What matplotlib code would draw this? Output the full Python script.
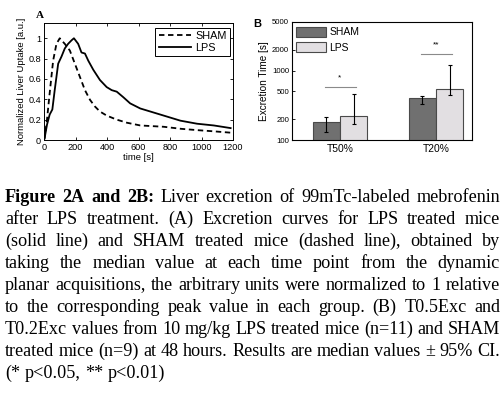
"""
liver excretion curves (A) and excretion times (B) with justified caption
"""

import numpy as np
import matplotlib
matplotlib.use('Agg')
import matplotlib.pyplot as plt

# panel A data: median normalized liver uptake
sham_t = [0, 4, 19, 36, 58, 79, 100, 132, 164, 196, 228, 260, 292, 323, 355, 398,
          462, 526, 611, 760, 870, 972, 1080, 1185]
sham_v = [0, 0.02, 0.2, 0.46, 0.78, 0.945, 1.0, 0.945, 0.88, 0.75, 0.62, 0.49, 0.395,
          0.33, 0.28, 0.24, 0.2, 0.17, 0.143, 0.13, 0.11, 0.097, 0.085, 0.072]
lps_t = [0, 4, 19, 36, 53, 68, 90, 111, 132, 153, 175, 190, 217, 238, 260, 281, 313,
         355, 398, 430, 462, 504, 547, 611, 760, 866, 972, 1078, 1185]
lps_v = [0, 0.02, 0.15, 0.25, 0.3, 0.49, 0.75, 0.82, 0.9, 0.945, 0.98, 1.0, 0.945,
         0.86, 0.85, 0.78, 0.69, 0.59, 0.52, 0.49, 0.475, 0.42, 0.36, 0.31, 0.24,
         0.19, 0.16, 0.143, 0.117]

# panel B data: excretion times [s], median and 95% CI
groups = ['T50%', 'T20%']
sham_med = [180, 402]
sham_lo = [129, 329]
sham_hi = [211, 429]
lps_med = [223, 542]
lps_lo = [169, 449]
lps_hi = [464, 1195]
sig_level = [580, 1740]
sig_text = ['*', '**']

caption_lines = [
    "Figure 2A and 2B: Liver excretion of 99mTc-labeled mebrofenin",
    "after LPS treatment. (A) Excretion curves for LPS treated mice",
    "(solid line) and SHAM treated mice (dashed line), obtained by",
    "taking the median value at each time point from the dynamic",
    "planar acquisitions, the arbitrary units were normalized to 1 relative",
    "to the corresponding peak value in each group. (B) T0.5Exc and",
    "T0.2Exc values from 10 mg/kg LPS treated mice (n=11) and SHAM",
    "treated mice (n=9) at 48 hours. Results are median values \u00b1 95% CI.",
    "(* p<0.05, ** p<0.01)",
]
n_bold = 4

plt.rcParams['font.family'] = ['Liberation Sans', 'DejaVu Sans']
W, H = 504, 393
fig = plt.figure(figsize=(W / 100, H / 100), dpi=100)


def px_axes(x0, y0, x1, y1):
    return fig.add_axes([x0 / W, 1 - y1 / H, (x1 - x0) / W, (y1 - y0) / H])


# ---- panel A
ax = px_axes(44, 23, 233, 140)
ax.plot(sham_t, sham_v, 'k--', lw=1.3, dashes=(3, 2), label='SHAM')
ax.plot(lps_t, lps_v, 'k-', lw=1.3, label='LPS')
ax.set_xlim(0, 1200)
ax.set_ylim(0, 1.15)
ax.set_xticks(np.arange(0, 1201, 200))
ax.set_yticks([0, 0.2, 0.4, 0.6, 0.8, 1])
ax.set_yticklabels(['0', '0.2', '0.4', '0.6', '0.8', '1'])
ax.tick_params(direction='in', length=2.5, width=0.6, labelsize=6.6, pad=2,
               top=True, right=True)
ax.set_xlabel('time [s]', fontsize=6.8, labelpad=1)
ax.set_ylabel('Normalized Liver Uptake [a.u.]', fontsize=6.8, labelpad=2)
for s in ax.spines.values():
    s.set_linewidth(0.7)
leg = ax.legend(loc='upper right', bbox_to_anchor=(0.984, 0.96), borderaxespad=0,
                fontsize=7.8, handlelength=3.0, fancybox=False, edgecolor='k',
                framealpha=1, borderpad=0.3, labelspacing=0.2, handletextpad=0.4)
leg.get_frame().set_linewidth(0.7)
fig.text(36 / W, 1 - 18 / H, 'A', fontsize=8, fontweight='bold',
         family='Liberation Serif')

# ---- panel B
bx = px_axes(292, 22, 472, 140)
x = np.arange(1, len(groups) + 1)
bw = 0.285
sham_err = [np.subtract(sham_med, sham_lo), np.subtract(sham_hi, sham_med)]
lps_err = [np.subtract(lps_med, lps_lo), np.subtract(lps_hi, lps_med)]
bx.bar(x - bw / 2, sham_med, bw, color='#707070', edgecolor='#4a4a4a', lw=0.8,
       label='SHAM', yerr=sham_err, error_kw=dict(ecolor='k', elinewidth=0.8,
                                                    capsize=1.5, capthick=0.8))
bx.bar(x + bw / 2, lps_med, bw, color='#e2dfe2', edgecolor='#4a4a4a', lw=0.8,
       label='LPS', yerr=lps_err, error_kw=dict(ecolor='k', elinewidth=0.8,
                                                  capsize=1.5, capthick=0.8))
for xi, lvl, st in zip(x, sig_level, sig_text):
    bx.plot([xi - 0.16, xi + 0.17], [lvl, lvl], color='#8a8a8a', lw=0.8)
    bx.text(xi, lvl * 1.2, st, ha='center', va='bottom', fontsize=6)
bx.set_yscale('log')
bx.set_ylim(100, 5000)
bx.set_xlim(0.5, 2.375)
bx.set_yticks([100, 200, 500, 1000, 2000, 5000])
bx.set_yticklabels(['100', '200', '500', '1000', '2000', '5000'])
bx.yaxis.set_minor_locator(matplotlib.ticker.NullLocator())
bx.set_xticks(x)
bx.set_xticklabels(groups)
bx.tick_params(axis='y', direction='in', length=2, width=0.6, labelsize=5.6, pad=2)
bx.tick_params(axis='x', length=0, labelsize=7.4, pad=3)
bx.set_ylabel('Excretion Time [s]', fontsize=7.2, labelpad=2)
for s in bx.spines.values():
    s.set_linewidth(0.8)
bx.legend(loc='upper left', bbox_to_anchor=(0.022, 0.96), borderaxespad=0,
          frameon=False, fontsize=7.5, handlelength=2.9, handleheight=1.15,
          labelspacing=0.45, handletextpad=0.3, borderpad=0)
fig.text(253 / W, 1 - 27 / H, 'B', fontsize=8, fontweight='bold')

# ---- caption, justified word by word
renderer = fig.canvas.get_renderer()
x_left, x_right = 5, 500
y_base, dy = 202, 22.0


def natural_width(line, size):
    t = fig.text(0, 0, line, fontsize=size, family='Liberation Serif')
    w = t.get_window_extent(renderer).width
    t.remove()
    return w


# size the caption font so the longest line just fills the column
cap_size = 11.0 * (x_right - x_left - 2) / natural_width(caption_lines[4], 11.0)
for i, line in enumerate(caption_lines):
    words = line.split(' ')
    texts = []
    for j, w in enumerate(words):
        bold = (i == 0 and j < n_bold)
        t = fig.text(0, 0, w, fontsize=cap_size, family='Liberation Serif',
                     fontweight='bold' if bold else 'normal', va='baseline')
        texts.append(t)
    widths = [t.get_window_extent(renderer).width for t in texts]
    if i < len(caption_lines) - 1:
        gap = (x_right - x_left - sum(widths)) / (len(words) - 1)
    else:
        gap = cap_size * 100 / 72 * 0.25
    xp = x_left
    yp = y_base + i * dy
    for t, wd in zip(texts, widths):
        t.set_position((xp / W, 1 - yp / H))
        xp += wd + gap

fig.savefig('out.png', dpi=100)
